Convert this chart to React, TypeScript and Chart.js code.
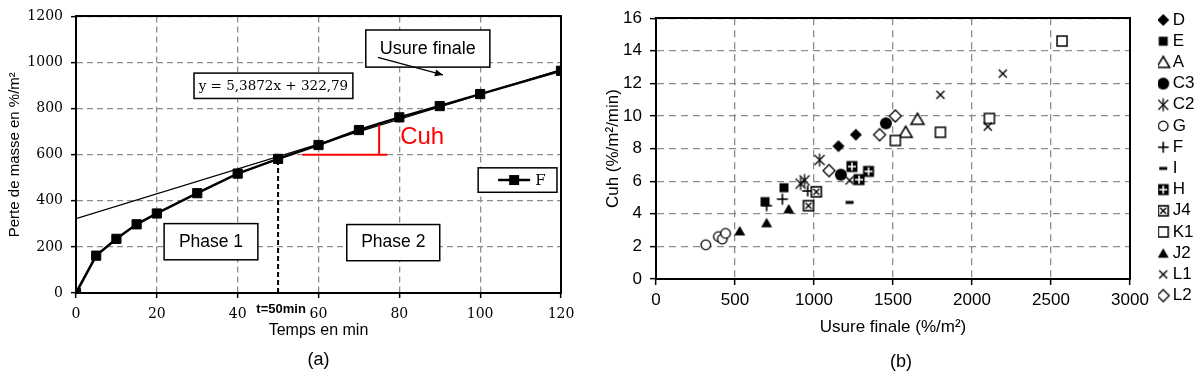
import React, { useEffect, useRef } from "react";
import { Chart, registerables } from "chart.js";
Chart.register(...registerables);

// ---------- (a) mass loss vs time ----------
const timeMin = [0, 5, 10, 15, 20, 30, 40, 50, 60, 70, 80, 90, 100, 120];
const massLoss = [0, 162, 235, 298, 345, 433, 518, 582, 642, 707, 762, 811, 863, 964];
const trendSlope = 5.3872;
const trendIntercept = 322.79;
const trendX = [0, 120];
const tMarkX = [50, 50];
const tMarkY = [0, 582];
const cuhHorizX = [56, 77];
const cuhHorizY = [600, 600];
const cuhVertX = [75, 75];
const cuhVertY = [600, 740];
const aXTicks = { min: 0, max: 120, step: 20 };
const aYTicks = { min: 0, max: 1200, step: 200 };

// ---------- (b) Cuh vs final wear ----------
const seriesLabels = ["D", "E", "A", "C3", "C2", "G", "F", "I", "H", "J4", "K1", "J2", "L1", "L2"];
const seriesMarkers = ["diamond", "square", "triangleOpen", "circle", "asterisk", "circleOpen", "plus", "dash", "squarePlus", "squareX", "squareOpen", "triangle", "cross", "diamondOpen"];
const usureD = [1155, 1265];
const cuhD = [8.15, 8.85];
const usureE = [690, 810];
const cuhE = [4.75, 5.6];
const usureA = [1580, 1655];
const cuhA = [9.0, 9.8];
const usureC3 = [1170, 1455];
const cuhC3 = [6.4, 9.55];
const usureC2 = [915, 940, 1035];
const cuhC2 = [5.85, 6.05, 7.3];
const usureG = [315, 395, 420, 440];
const cuhG = [2.1, 2.6, 2.45, 2.8];
const usureF = [700, 800, 960];
const cuhF = [4.5, 4.9, 5.4];
const usureI = [1225];
const cuhI = [4.7];
const usureH = [1240, 1285, 1345];
const cuhH = [6.9, 6.1, 6.6];
const usureJ4 = [965, 1015];
const cuhJ4 = [4.5, 5.35];
const usureK1 = [1515, 1800, 2110, 2570];
const cuhK1 = [8.5, 9.0, 9.85, 14.6];
const usureJ2 = [530, 700, 840];
const cuhJ2 = [2.95, 3.45, 4.3];
const usureL1 = [1225, 1800, 2100, 2195];
const cuhL1 = [6.05, 11.3, 9.35, 12.6];
const usureL2 = [1095, 1415, 1515];
const cuhL2 = [6.65, 8.85, 10.0];
const seriesX = [usureD, usureE, usureA, usureC3, usureC2, usureG, usureF, usureI, usureH, usureJ4, usureK1, usureJ2, usureL1, usureL2];
const seriesY = [cuhD, cuhE, cuhA, cuhC3, cuhC2, cuhG, cuhF, cuhI, cuhH, cuhJ4, cuhK1, cuhJ2, cuhL1, cuhL2];
const bXTicks = { min: 0, max: 3000, step: 500 };
const bYTicks = { min: 0, max: 16, step: 2 };

const GRID = "#8c8c8c";
const SANS = "'Liberation Sans', Arial, sans-serif";
const SERIF = "'DejaVu Serif', serif";
const plainTick = (v: any) => `${v}`;

function makeMarker(kind: string): HTMLCanvasElement {
  const s = 18;
  const c = s / 2;
  const cv = document.createElement("canvas");
  cv.width = s;
  cv.height = s;
  const g = cv.getContext("2d")!;
  g.strokeStyle = "#000";
  g.fillStyle = "#000";
  const poly = (pts: number[][], fill: string, lw: number) => {
    g.beginPath();
    pts.forEach((p, i) => (i ? g.lineTo(p[0], p[1]) : g.moveTo(p[0], p[1])));
    g.closePath();
    g.fillStyle = fill;
    g.fill();
    if (lw > 0) {
      g.lineWidth = lw;
      g.strokeStyle = "#000";
      g.stroke();
    }
  };
  const line = (x1: number, y1: number, x2: number, y2: number, lw: number, col = "#000") => {
    g.beginPath();
    g.moveTo(x1, y1);
    g.lineTo(x2, y2);
    g.lineWidth = lw;
    g.strokeStyle = col;
    g.stroke();
  };
  switch (kind) {
    case "diamond":
      poly([[c, c - 6], [c + 6, c], [c, c + 6], [c - 6, c]], "#000", 0);
      break;
    case "square":
      g.fillRect(c - 4.5, c - 4.5, 9, 9);
      break;
    case "triangleOpen":
      poly([[c, c - 6], [c + 6.5, c + 5], [c - 6.5, c + 5]], "#fff", 1.5);
      break;
    case "circle":
      g.beginPath();
      g.arc(c, c, 6, 0, Math.PI * 2);
      g.fill();
      break;
    case "asterisk":
      line(c, c - 6.5, c, c + 6.5, 1.3);
      line(c - 5, c - 5, c + 5, c + 5, 1.3);
      line(c + 5, c - 5, c - 5, c + 5, 1.3);
      break;
    case "circleOpen":
      g.beginPath();
      g.arc(c, c, 4.8, 0, Math.PI * 2);
      g.fillStyle = "#fff";
      g.fill();
      g.lineWidth = 1.3;
      g.stroke();
      break;
    case "plus":
      line(c - 5.5, c, c + 5.5, c, 1.6);
      line(c, c - 5.5, c, c + 5.5, 1.6);
      break;
    case "dash":
      g.fillRect(c - 4, c - 1.5, 8, 3);
      break;
    case "squarePlus":
      g.fillRect(c - 5.5, c - 5.5, 11, 11);
      line(c - 4, c, c + 4, c, 1.6, "#fff");
      line(c, c - 4, c, c + 4, 1.6, "#fff");
      break;
    case "squareX":
      g.fillStyle = "#fff";
      g.fillRect(c - 5, c - 5, 10, 10);
      g.lineWidth = 1.6;
      g.strokeRect(c - 5, c - 5, 10, 10);
      line(c - 3, c - 3, c + 3, c + 3, 1.4);
      line(c + 3, c - 3, c - 3, c + 3, 1.4);
      break;
    case "squareOpen":
      g.fillStyle = "#fff";
      g.fillRect(c - 5, c - 5, 10, 10);
      g.lineWidth = 1.5;
      g.strokeRect(c - 5, c - 5, 10, 10);
      break;
    case "triangle":
      poly([[c, c - 5], [c + 5.5, c + 4.5], [c - 5.5, c + 4.5]], "#000", 0);
      break;
    case "cross":
      line(c - 4, c - 4, c + 4, c + 4, 1.5);
      line(c + 4, c - 4, c - 4, c + 4, 1.5);
      break;
    case "diamondOpen":
      poly([[c, c - 6], [c + 6, c], [c, c + 6], [c - 6, c]], "#fff", 1.3);
      break;
  }
  return cv;
}

const annotA = {
  id: "annotA",
  afterDatasetsDraw(chart: any) {
    const { ctx, scales, chartArea } = chart;
    const X = (v: number) => scales.x.getPixelForValue(v);
    const Y = (v: number) => scales.y.getPixelForValue(v);
    ctx.save();
    const box = (x0: number, y0: number, x1: number, y1: number) => {
      const l = X(x0), r = X(x1), t = Y(y0), b = Y(y1);
      ctx.fillStyle = "#fff";
      ctx.fillRect(l, t, r - l, b - t);
      ctx.strokeStyle = "#000";
      ctx.lineWidth = 1.5;
      ctx.strokeRect(l, t, r - l, b - t);
      return { l, r, t, b, cx: (l + r) / 2, cy: (t + b) / 2 };
    };
    const text = (s: string, x: number, y: number, font: string, color = "#000", align: CanvasTextAlign = "center") => {
      ctx.font = font;
      ctx.fillStyle = color;
      ctx.textAlign = align;
      ctx.textBaseline = "middle";
      ctx.fillText(s, x, y);
    };
    // Usure finale box + arrow
    const u = box(71.7, 1141, 102.4, 980);
    text("Usure finale", u.cx, u.cy, `18px ${SANS}`);
    const ax0 = X(74.7), ay0 = Y(1022), ax1 = X(90.8), ay1 = Y(946);
    ctx.strokeStyle = "#000";
    ctx.lineWidth = 1.3;
    ctx.beginPath();
    ctx.moveTo(ax0, ay0);
    ctx.lineTo(ax1, ay1);
    ctx.stroke();
    const ang = Math.atan2(ay1 - ay0, ax1 - ax0);
    ctx.beginPath();
    ctx.moveTo(ax1, ay1);
    ctx.lineTo(ax1 - 8 * Math.cos(ang) + 3.5 * Math.sin(ang), ay1 - 8 * Math.sin(ang) - 3.5 * Math.cos(ang));
    ctx.lineTo(ax1 - 8 * Math.cos(ang) - 3.5 * Math.sin(ang), ay1 - 8 * Math.sin(ang) + 3.5 * Math.cos(ang));
    ctx.closePath();
    ctx.fillStyle = "#000";
    ctx.fill();
    // Equation
    const e = box(29.2, 954, 68.5, 844);
    text("y = 5,3872x + 322,79", e.cx, e.cy + 1, `13.5px ${SERIF}`);
    // Legend F
    const lg = box(99.5, 543, 119, 437);
    ctx.strokeStyle = "#000";
    ctx.lineWidth = 2.5;
    ctx.beginPath();
    ctx.moveTo(lg.l + 20, lg.cy);
    ctx.lineTo(lg.l + 52, lg.cy);
    ctx.stroke();
    ctx.fillStyle = "#000";
    ctx.fillRect(lg.l + 31, lg.cy - 5, 10, 10);
    text("F", lg.l + 57, lg.cy + 1, `15px ${SERIF}`, "#000", "left");
    // Phases
    const p1 = box(21.8, 301, 45, 144);
    text("Phase 1", p1.cx, p1.cy, `17.5px ${SANS}`);
    const p2 = box(67, 297, 90, 140);
    text("Phase 2", p2.cx, p2.cy, `17.5px ${SANS}`);
    // Cuh
    text("Cuh", X(80.2), Y(674), `24px ${SANS}`, "#ff0000", "left");
    // t=50min
    text("t=50min", X(50) + 3, chartArea.bottom + 16, `bold 13px ${SANS}`);
    // (a)
    text("(a)", (chartArea.left + chartArea.right) / 2, 360, `18px ${SANS}`);
    ctx.restore();
  },
};

const annotB = {
  id: "annotB",
  afterDraw(chart: any) {
    const { ctx } = chart;
    ctx.save();
    ctx.font = `18px ${SANS}`;
    ctx.fillStyle = "#000";
    ctx.textAlign = "center";
    ctx.textBaseline = "middle";
    ctx.fillText("(b)", 301, 362);
    ctx.restore();
  },
};

function frameAxis(position: string, size: number) {
  return {
    type: "linear",
    position,
    display: true,
    grid: { display: false, drawTicks: false },
    ticks: { display: false },
    border: { display: true, color: "#000", width: 2 },
    afterFit: (s: any) => {
      if (position === "top") s.height = size;
      else s.width = size;
    },
  };
}

function cfgA(): any {
  return {
    type: "line",
    data: {
      datasets: [
        {
          label: "F",
          data: timeMin.map((x, i) => ({ x, y: massLoss[i] })),
          borderColor: "#000",
          backgroundColor: "#000",
          borderWidth: 2.5,
          pointStyle: "rect",
          pointRadius: 6.5,
          pointBorderWidth: 1,
          order: 0,
          xAxisID: "x",
          yAxisID: "y",
        },
        {
          label: "trend",
          data: trendX.map((x) => ({ x, y: trendSlope * x + trendIntercept })),
          borderColor: "#000",
          borderWidth: 1.2,
          pointRadius: 0,
          order: 3,
          xAxisID: "x",
          yAxisID: "y",
        },
        {
          label: "t50",
          data: tMarkX.map((x, i) => ({ x, y: tMarkY[i] })),
          borderColor: "#000",
          borderWidth: 2,
          borderDash: [5, 3],
          pointRadius: 0,
          order: 2,
          xAxisID: "x",
          yAxisID: "y",
        },
        {
          label: "cuhH",
          data: cuhHorizX.map((x, i) => ({ x, y: cuhHorizY[i] })),
          borderColor: "#ff0000",
          borderWidth: 2,
          pointRadius: 0,
          order: 1,
          xAxisID: "x",
          yAxisID: "y",
        },
        {
          label: "cuhV",
          data: cuhVertX.map((x, i) => ({ x, y: cuhVertY[i] })),
          borderColor: "#ff0000",
          borderWidth: 2,
          pointRadius: 0,
          order: 1,
          xAxisID: "x",
          yAxisID: "y",
        },
      ],
    },
    options: {
      animation: false,
      responsive: true,
      maintainAspectRatio: false,
      layout: { padding: { left: 0, top: 10, right: 39, bottom: 33.4 } },
      plugins: { legend: { display: false }, tooltip: { enabled: false } },
      scales: {
        x: {
          type: "linear",
          min: aXTicks.min,
          max: aXTicks.max,
          ticks: { stepSize: aXTicks.step, callback: plainTick, color: "#000", font: { family: SERIF, size: 14 }, padding: 8, maxRotation: 0 },
          grid: { color: GRID, lineWidth: 1.3, tickColor: "#000", tickLength: 5, tickWidth: 1.5, tickBorderDash: [] },
          border: { color: "#000", width: 2, dash: [6, 4] },
          title: { display: true, text: "Temps en min", color: "#000", font: { family: SANS, size: 16 }, padding: { top: 0, bottom: 4 } },
          afterFit: (s: any) => { s.height = 51.6; },
        },
        y: {
          type: "linear",
          min: aYTicks.min,
          max: aYTicks.max,
          ticks: { stepSize: aYTicks.step, callback: plainTick, color: "#000", font: { family: SERIF, size: 14 }, padding: 8 },
          grid: { color: GRID, lineWidth: 1.3, tickColor: "#000", tickLength: 5, tickWidth: 1.5, tickBorderDash: [] },
          border: { color: "#000", width: 2, dash: [6, 4] },
          title: { display: true, text: "Perte de masse en %/m²", color: "#000", font: { family: SANS, size: 15 }, padding: { top: 6, bottom: 0 } },
          afterFit: (s: any) => { s.width = 76; },
        },
        xTop: frameAxis("top", 0),
        yRight: frameAxis("right", 0),
      },
    },
    plugins: [annotA],
  };
}

function cfgB(): any {
  return {
    type: "scatter",
    data: {
      datasets: seriesLabels.map((label, i) => ({
        label,
        data: seriesX[i].map((x, j) => ({ x, y: seriesY[i][j] })),
        pointStyle: makeMarker(seriesMarkers[i]),
        pointRadius: 5,
        pointHoverRadius: 5,
        showLine: false,
        order: seriesLabels.length - i,
        xAxisID: "x",
        yAxisID: "y",
      })),
    },
    options: {
      animation: false,
      responsive: true,
      maintainAspectRatio: false,
      layout: { padding: { left: 0, top: 7.3, right: 0, bottom: 40.8 } },
      plugins: {
        tooltip: { enabled: false },
        legend: {
          display: true,
          position: "right",
          align: "start",
          maxWidth: 42,
          labels: {
            usePointStyle: true,
            pointStyleWidth: 2,
            padding: 4.2,
            color: "#000",
            font: { family: SANS, size: 17 },
            sort: (a: any, b: any) => a.datasetIndex - b.datasetIndex,
          },
        },
      },
      scales: {
        x: {
          type: "linear",
          min: bXTicks.min,
          max: bXTicks.max,
          ticks: { stepSize: bXTicks.step, callback: plainTick, color: "#000", font: { family: SANS, size: 17 }, padding: 5, maxRotation: 0 },
          grid: { color: GRID, lineWidth: 1.3, tickColor: "#000", tickLength: 6, tickWidth: 1.5, tickBorderDash: [] },
          border: { color: "#000", width: 2, dash: [7, 5] },
          title: { display: true, text: "Usure finale (%/m²)", color: "#000", font: { family: SANS, size: 17 }, padding: { top: 0, bottom: 0 } },
          afterFit: (s: any) => { s.height = 58.2; },
        },
        y: {
          type: "linear",
          min: bYTicks.min,
          max: bYTicks.max,
          ticks: { stepSize: bYTicks.step, callback: plainTick, color: "#000", font: { family: SANS, size: 17 }, padding: 8 },
          grid: { color: GRID, lineWidth: 1.3, tickColor: "#000", tickLength: 6, tickWidth: 1.5, tickBorderDash: [] },
          border: { color: "#000", width: 2, dash: [7, 5] },
          title: { display: true, text: "Cuh (%/m²/min)", color: "#000", font: { family: SANS, size: 17 }, padding: { top: 3, bottom: 0 } },
          afterFit: (s: any) => { s.width = 56; },
        },
        xTop: frameAxis("top", 8.7),
        yRight: frameAxis("right", 28),
      },
    },
    plugins: [annotB],
  };
}

export default function App() {
  const refA = useRef<HTMLCanvasElement>(null);
  const refB = useRef<HTMLCanvasElement>(null);
  useEffect(() => {
    const a = new Chart(refA.current!, cfgA());
    const b = new Chart(refB.current!, cfgB());
    return () => {
      a.destroy();
      b.destroy();
    };
  }, []);
  return (
    <div style={{ position: "fixed", left: 0, top: 0, width: 1200, height: 378, background: "#fff" }}>
      <div style={{ position: "absolute", left: 0, top: 0, width: 600, height: 378 }}>
        <canvas ref={refA} />
      </div>
      <div style={{ position: "absolute", left: 600, top: 0, width: 600, height: 378 }}>
        <canvas ref={refB} />
      </div>
    </div>
  );
}
